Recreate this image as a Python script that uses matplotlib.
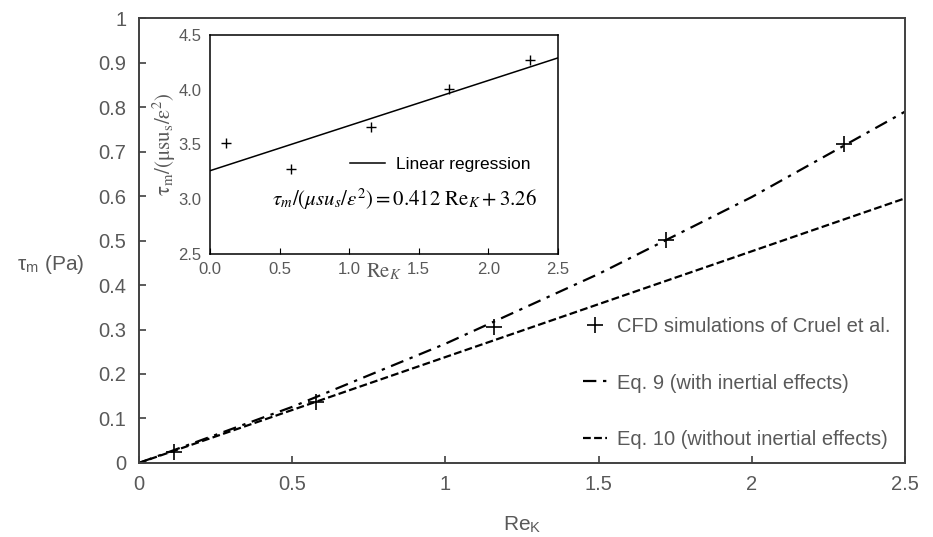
import matplotlib
matplotlib.use('Agg')
import matplotlib.pyplot as plt
import numpy as np

plt.rcParams['font.family'] = ['Liberation Sans', 'DejaVu Sans']
plt.rcParams['mathtext.fontset'] = 'stix'

# CFD points (main plot)
re_cfd = [0.115, 0.578, 1.16, 1.72, 2.30]
tau_cfd = [0.025, 0.137, 0.306, 0.501, 0.717]

# model curves
re_eq = [0, 0.5, 1.0, 1.5, 2.0, 2.5]
tau_eq9 = [0, 0.126, 0.268, 0.425, 0.598, 0.790]
tau_eq10 = [0, 0.119, 0.238, 0.357, 0.476, 0.595]

# inset: normalised stress
re_in = [0.115, 0.58, 1.16, 1.72, 2.30]
norm_in = [3.51, 3.28, 3.66, 4.01, 4.27]
re_fit = [0, 2.5]
norm_fit = [3.26, 4.29]

grey = '#595959'
fig = plt.figure(figsize=(9.33, 5.37), dpi=100)
ax = fig.add_axes([0.149, 0.138, 0.821, 0.828])

ax.plot(re_cfd, tau_cfd, ls='none', marker='+', ms=12, mew=1.2, color='k',
        label='CFD simulations of Cruel et al.')
ax.plot(re_eq, tau_eq9, color='k', lw=1.6, dashes=(6, 3, 1.5, 3),
        label='Eq. 9 (with inertial effects)')
ax.plot(re_eq, tau_eq10, color='k', lw=1.6, dashes=(3.5, 1.5),
        label='Eq. 10 (without inertial effects)')

ax.set_xlim(0, 2.5)
ax.set_ylim(0, 1)
ax.set_xticks([0, 0.5, 1, 1.5, 2, 2.5])
ax.set_xticklabels(['0', '0.5', '1', '1.5', '2', '2.5'])
ax.set_yticks(np.arange(0, 1.01, 0.1))
ax.set_yticklabels(['0', '0.1', '0.2', '0.3', '0.4', '0.5', '0.6', '0.7', '0.8', '0.9', '1'])
ax.tick_params(direction='in', length=5, width=1.2, labelsize=14.5, labelcolor=grey,
               color='#404040', pad=9)
for s in ax.spines.values():
    s.set_color('#404040')
    s.set_linewidth(1.4)
ax.set_xlabel('Re$_\\mathregular{K}$', fontsize=15, color=grey, labelpad=14)
ax.set_ylabel('τ$_\\mathregular{m}$ (Pa)', fontsize=15, color=grey, rotation=0)
ax.yaxis.set_label_coords(-0.115, 0.42)

leg = ax.legend(loc='lower right', frameon=False, fontsize=14.5, handlelength=1.2,
                handletextpad=0.5, labelspacing=1.85, borderaxespad=0.3,
                bbox_to_anchor=(1.0, 0.0))
for t in leg.get_texts():
    t.set_color(grey)

# inset
ins = fig.add_axes([0.225, 0.527, 0.373, 0.408])
ins.plot(re_in, norm_in, ls='none', marker='+', ms=7, mew=1.0, color='k')
ins.plot(re_fit, norm_fit, color='k', lw=1.1, label='Linear regression')
ins.set_xlim(0, 2.5)
ins.set_ylim(2.5, 4.5)
ins.set_xticks([0, 0.5, 1.0, 1.5, 2.0, 2.5])
ins.set_xticklabels(['0.0', '0.5', '1.0', '1.5', '2.0', '2.5'])
ins.set_yticks([2.5, 3.0, 3.5, 4.0, 4.5])
ins.set_yticklabels(['2.5', '3.0', '3.5', '4.0', '4.5'])
ins.tick_params(axis='x', direction='in', length=4, labelsize=12, labelcolor=grey, pad=6)
ins.tick_params(axis='y', direction='in', length=0, labelsize=12, labelcolor=grey, pad=6)
for s in ins.spines.values():
    s.set_linewidth(1.1)
ins.text(0.5, -0.035, r'$\mathrm{Re}_K$', transform=ins.transAxes, ha='center', va='top',
         fontsize=15, color=grey)
ins.set_ylabel(r'$\mathrm{\tau_m/(\mu su_s/\varepsilon^2)}$', fontsize=15, color=grey, labelpad=0)
ins.legend(loc='center right', frameon=False, fontsize=12.5, handlelength=2.0,
           handletextpad=0.6, bbox_to_anchor=(0.965, 0.41))
ins.text(0.94, 0.25, r'$\tau_m/(\mu s u_s/\varepsilon^2) = 0.412\ \mathrm{Re}_K + 3.26$',
         transform=ins.transAxes, ha='right', va='center', fontsize=15)

fig.savefig('out.png', dpi=100)
